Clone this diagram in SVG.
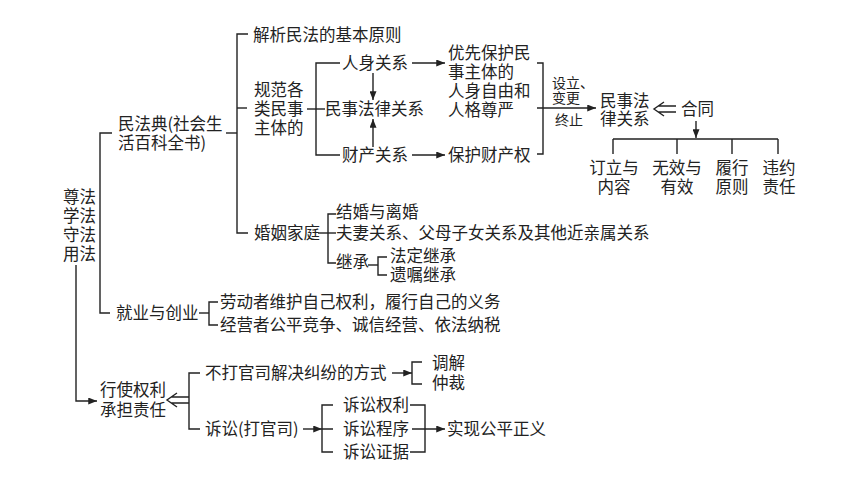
<svg xmlns="http://www.w3.org/2000/svg" width="860" height="484" viewBox="0 0 860 484">
<defs>
<marker id="ah" viewBox="0 0 10 8" refX="10" refY="4" markerWidth="9" markerHeight="7" markerUnits="userSpaceOnUse" orient="auto">
<path d="M0,0 L10,4 L0,8 z" fill="#222"/>
</marker>
<style>
text{font-family:"Noto Sans CJK SC","Noto Sans",sans-serif;font-size:16.5px;fill:#222}
.s{font-size:14px}
.m{text-anchor:middle}
.c path{fill:none;stroke:#222;stroke-width:1.4}
.c path.a{marker-end:url(#ah)}
</style>
</defs>
<rect width="860" height="484" fill="#fff"/>
<g id="root"><text x="63" y="203">尊法<tspan x="63" dy="19">学法</tspan><tspan x="63" dy="19">守法</tspan><tspan x="63" dy="19">用法</tspan></text></g>
<g id="minfadian"><text x="118" y="130">民法典(社会生<tspan x="118" dy="19">活百科全书)</tspan></text></g>
<g id="jiexi"><text x="253" y="41">解析民法的基本原则</text></g>
<g id="guifan"><text x="254" y="96">规范各<tspan x="254" dy="19">类民事</tspan><tspan x="254" dy="19">主体的</tspan></text></g>
<g id="minshi1"><text x="325" y="115">民事法律关系</text></g>
<g id="renshen"><text x="342" y="69">人身关系</text></g>
<g id="caichan"><text x="342" y="161">财产关系</text></g>
<g id="youxian"><text x="448" y="59">优先保护民<tspan x="448" dy="19">事主体的</tspan><tspan x="448" dy="19">人身自由和</tspan><tspan x="448" dy="19">人格尊严</tspan></text></g>
<g id="baohu"><text x="448" y="161">保护财产权</text></g>
<g id="sheli"><text class="s" x="552" y="88">设立、<tspan x="552" dy="15">变更</tspan></text><text class="s" x="555" y="125">终止</text></g>
<g id="minshi2"><text x="600" y="107">民事法<tspan x="600" dy="18">律关系</tspan></text></g>
<g id="hetong"><text x="681" y="115">合同</text></g>
<g id="dingli"><text class="m" x="614" y="174">订立与<tspan x="614" dy="19">内容</tspan></text></g>
<g id="wuxiao"><text class="m" x="677" y="174">无效与<tspan x="677" dy="19">有效</tspan></text></g>
<g id="lvxing"><text class="m" x="732" y="174">履行<tspan x="732" dy="19">原则</tspan></text></g>
<g id="weiyue"><text class="m" x="779" y="174">违约<tspan x="779" dy="19">责任</tspan></text></g>
<g id="hunyin"><text x="254" y="239">婚姻家庭</text></g>
<g id="jiehun"><text x="336" y="218">结婚与离婚</text></g>
<g id="fuqi"><text x="336" y="239">夫妻关系、父母子女关系及其他近亲属关系</text></g>
<g id="jicheng"><text x="336" y="268">继承</text></g>
<g id="fading"><text x="390" y="262">法定继承</text></g>
<g id="yizhu"><text x="390" y="281">遗嘱继承</text></g>
<g id="jiuye"><text x="116" y="319">就业与创业</text></g>
<g id="laodong"><text x="220" y="308">劳动者维护自己权利，履行自己的义务</text></g>
<g id="jingying"><text x="220" y="331">经营者公平竞争、诚信经营、依法纳税</text></g>
<g id="xingshi"><text x="100" y="396">行使权利<tspan x="100" dy="20">承担责任</tspan></text></g>
<g id="buda"><text x="205" y="379">不打官司解决纠纷的方式</text></g>
<g id="tiaojie"><text x="432" y="369">调解</text></g>
<g id="zhongcai"><text x="432" y="389">仲裁</text></g>
<g id="susong"><text x="205" y="435">诉讼(打官司)</text></g>
<g id="quanli"><text x="343" y="411">诉讼权利</text></g>
<g id="chengxu"><text x="343" y="435">诉讼程序</text></g>
<g id="zhengju"><text x="343" y="458">诉讼证据</text></g>
<g id="shixian"><text x="447" y="435">实现公平正义</text></g>
<g id="connectors" class="c">
<path d="M112,133 H100 V313 H110"/>
<path class="a" d="M76,265 V401 H97"/>
<path d="M226,133 H237"/>
<path d="M248,34 H237 V233 H248"/>
<path d="M237,108 H247"/>
<path d="M307,109 H325"/>
<path d="M340,63 H316 V155 H340"/>
<path class="a" d="M412,63 H445"/>
<path class="a" d="M412,155 H445"/>
<path class="a" d="M373,73 V100"/>
<path class="a" d="M373,147 V119"/>
<path d="M537,63 H543 V154 H537"/>
<path class="a" d="M537,108 H596"/>
<path d="M664,102 L654,109 L664,116 M658,106 H676 M658,112 H676"/>
<path class="a" d="M696,121 V138"/>
<path d="M613,139 H778 M613,139 V154 M677,139 V154 M732,139 V154 M778,139 V154"/>
<path d="M318,233 H336"/>
<path d="M336,214 H328 V263 H336"/>
<path d="M368,265 H378"/>
<path d="M387,257 H378 V275 H387"/>
<path d="M199,313 H209"/>
<path d="M218,302 H209 V325 H218"/>
<path d="M177,393 L167,400 L177,407 M171,397 H189 M171,403 H189"/>
<path d="M200,373 H189 V429 H200"/>
<path class="a" d="M392,373 H412"/>
<path d="M422,362 H412 V384 H422"/>
<path class="a" d="M303,429 H322"/>
<path d="M333,405 H322 V452 H333 M322,429 H333"/>
<path d="M410,405 H425 V452 H410"/>
<path class="a" d="M412,429 H445"/>
</g>
</svg>
